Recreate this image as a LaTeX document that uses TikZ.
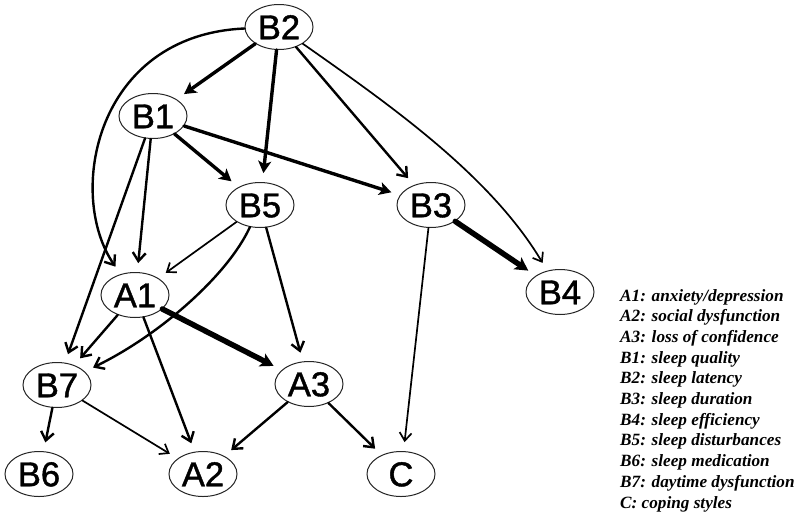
\documentclass[tikz,border=0pt]{standalone}
\usepackage{fontspec}
\setmainfont{Liberation Serif}
\newfontfamily\nodefont[FakeBold=1.2]{Liberation Sans}
\usetikzlibrary{shapes.geometric,arrows.meta}
\begin{document}
\begin{tikzpicture}[x=1pt,y=-1pt,
  vnode/.style={ellipse, draw=black!85, line width=1pt, minimum width=68pt, minimum height=45pt,
    inner sep=0pt, text height=24.5pt, text depth=0pt, font=\nodefont\fontsize{34.5}{34}\selectfont},
  legtext/.style={anchor=base west, inner sep=0pt, font=\fontsize{17.2}{18}\selectfont\bfseries\itshape},
  edge/.style={shorten >=9pt, line cap=round},
  wthin/.style={edge, line width=1.7pt, -{Straight Barb[length=8pt,width=12pt]}},
  wmed/.style={edge, line width=2.4pt, -{Straight Barb[length=8.5pt,width=13pt]}},
  wthick/.style={edge, line width=3.4pt, -{Stealth[length=12pt,width=13pt,inset=3pt]}},
  wheavy/.style={edge, line width=5.5pt, -{Stealth[length=13pt,width=14pt,inset=3pt]}}
]
\useasboundingbox[fill=white] (0,0) rectangle (800,517);

% nodes
\node[vnode] (B2) at (279,27) {B2};
\node[vnode] (B1) at (153,116) {B1};
\node[vnode] (B5) at (260,205) {B5};
\node[vnode] (B3) at (431,205) {B3};
\node[vnode] (B4) at (560,292) {B4};
\node[vnode] (A1) at (135,295) {A1};
\node[vnode] (A3) at (309,384) {A3};
\node[vnode] (B7) at (57,385) {B7};
\node[vnode] (B6) at (39,474) {B6};
\node[vnode] (A2) at (203,474) {A2};
\node[vnode] (C)  at (401,474) {C};

% edges
\draw[wthick] (B2) -- (B1);
\draw[wthick] (B2) -- (B5);
\draw[wmed]   (B2) -- (B3);
\draw[wthin]  (B2) .. controls (390,105) and (490,175) .. (B4);
\draw[wmed]   (B2) .. controls (95,35) and (66,195) .. (A1);
\draw[wthick] (B1) -- (B5);
\draw[wthick] (B1) -- (B3);
\draw[wmed]   (B1) -- (A1);
\draw[wmed]   (B1) -- (B7);
\draw[wthin]  (B5) -- (A1);
\draw[wmed]   (B5) .. controls (228,275) and (160,335) .. (B7);
\draw[wmed]   (B5) -- (A3);
\draw[wheavy] (B3) -- (B4);
\draw[wthin]  (B3) -- (C);
\draw[wmed]   (A1) -- (B7);
\draw[wheavy] (A1) -- (A3);
\draw[wmed]   (A1) -- (A2);
\draw[wmed]   (B7) -- (B6);
\draw[wthin]  (B7) -- (A2);
\draw[wmed]   (A3) -- (A2);
\draw[wmed]   (A3) -- (C);

% legend
\foreach \t [count=\i] in {A1: anxiety/depression, A2: social dysfunction, A3: loss of confidence,
  B1: sleep quality, B2: sleep latency, B3: sleep duration, B4: sleep efficiency,
  B5: sleep disturbances, B6: sleep medication, B7: daytime dysfunction, C: coping styles}
  \node[legtext] (leg\i) at (620,{301+20.7*(\i-1)}) {\t};
\end{tikzpicture}
\end{document}
